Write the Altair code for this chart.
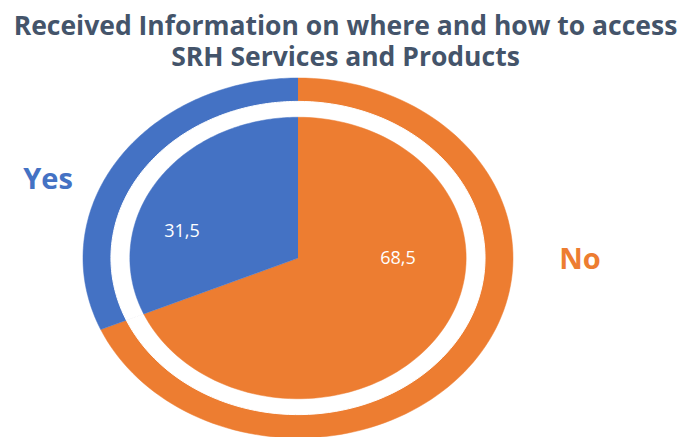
import altair as alt
import pandas as pd

categories = ["No", "Yes"]
values = [68.5, 31.5]
value_labels = ["68,5", "31,5"]
colors = ["#ED7D31", "#4472C4"]

df = pd.DataFrame({"cat": categories, "value": values, "label": value_labels})

N = 120
color_scale = alt.Scale(domain=categories, range=colors)
xs = alt.Scale(domain=[-1.3488, 1.7907], nice=False, zero=False)
ys = alt.Scale(domain=[-1, 1], nice=False, zero=False)


def wedge(R, white=False):
    base = (
        alt.Chart(df)
        .transform_window(cum="sum(value)")
        .transform_calculate(start="datum.cum - datum.value")
        .transform_calculate(k=f"sequence(-1, {N + 1})")
        .transform_flatten(["k"])
        .transform_calculate(
            t=f"2*PI*(datum.start + datum.value*max(datum.k,0)/{N})/100",
            rr=f"datum.k < 0 ? 0 : {R}",
        )
        .transform_calculate(px="datum.rr*sin(datum.t)", py="datum.rr*cos(datum.t)")
    )
    if white:
        mark = base.mark_line(filled=True, color="white", stroke="white", strokeWidth=1)
        enc = dict(detail="cat:N")
    else:
        mark = base.mark_line(filled=True, strokeWidth=0.5)
        enc = dict(
            color=alt.Color("cat:N", scale=color_scale, legend=None),
            stroke=alt.Stroke("cat:N", scale=color_scale, legend=None),
        )
    return mark.encode(
        x=alt.X("px:Q", scale=xs, axis=None),
        y=alt.Y("py:Q", scale=ys, axis=None),
        order="k:Q",
        **enc,
    )


def text_at(cat, field, px, py, size, color, bold):
    return (
        alt.Chart(df)
        .transform_filter(alt.datum.cat == cat)
        .mark_text(
            font="Open Sans",
            fontSize=size,
            fontWeight="bold" if bold else "normal",
            color=color,
            align="center",
            baseline="middle",
        )
        .encode(x=alt.value(px), y=alt.value(py), text=f"{field}:N")
    )


chart = alt.layer(
    wedge(1.0),
    wedge(0.87, white=True),
    wedge(0.782),
    text_at("Yes", "label", 174, 154, 18, "white", False),
    text_at("No", "label", 390, 181, 18, "white", False),
    text_at("Yes", "cat", 40, 102, 29, "#4472C4", True),
    text_at("No", "cat", 572, 182, 29, "#ED7D31", True),
).properties(
    width=675,
    height=360,
    title=alt.TitleParams(
        text=["Received Information on where and how to access", "SRH Services and Products"],
        font="Open Sans",
        fontSize=26.5,
        fontWeight="bold",
        color="#44546A",
        anchor="middle",
        lineHeight=30.5,
        offset=6,
    ),
    autosize=alt.AutoSizeParams(type="none"),
    padding={"left": 0, "top": 70, "right": 0, "bottom": 0},
).configure_view(stroke=None)

chart.save("out.html", embed_options={"renderer": "svg", "actions": False})
